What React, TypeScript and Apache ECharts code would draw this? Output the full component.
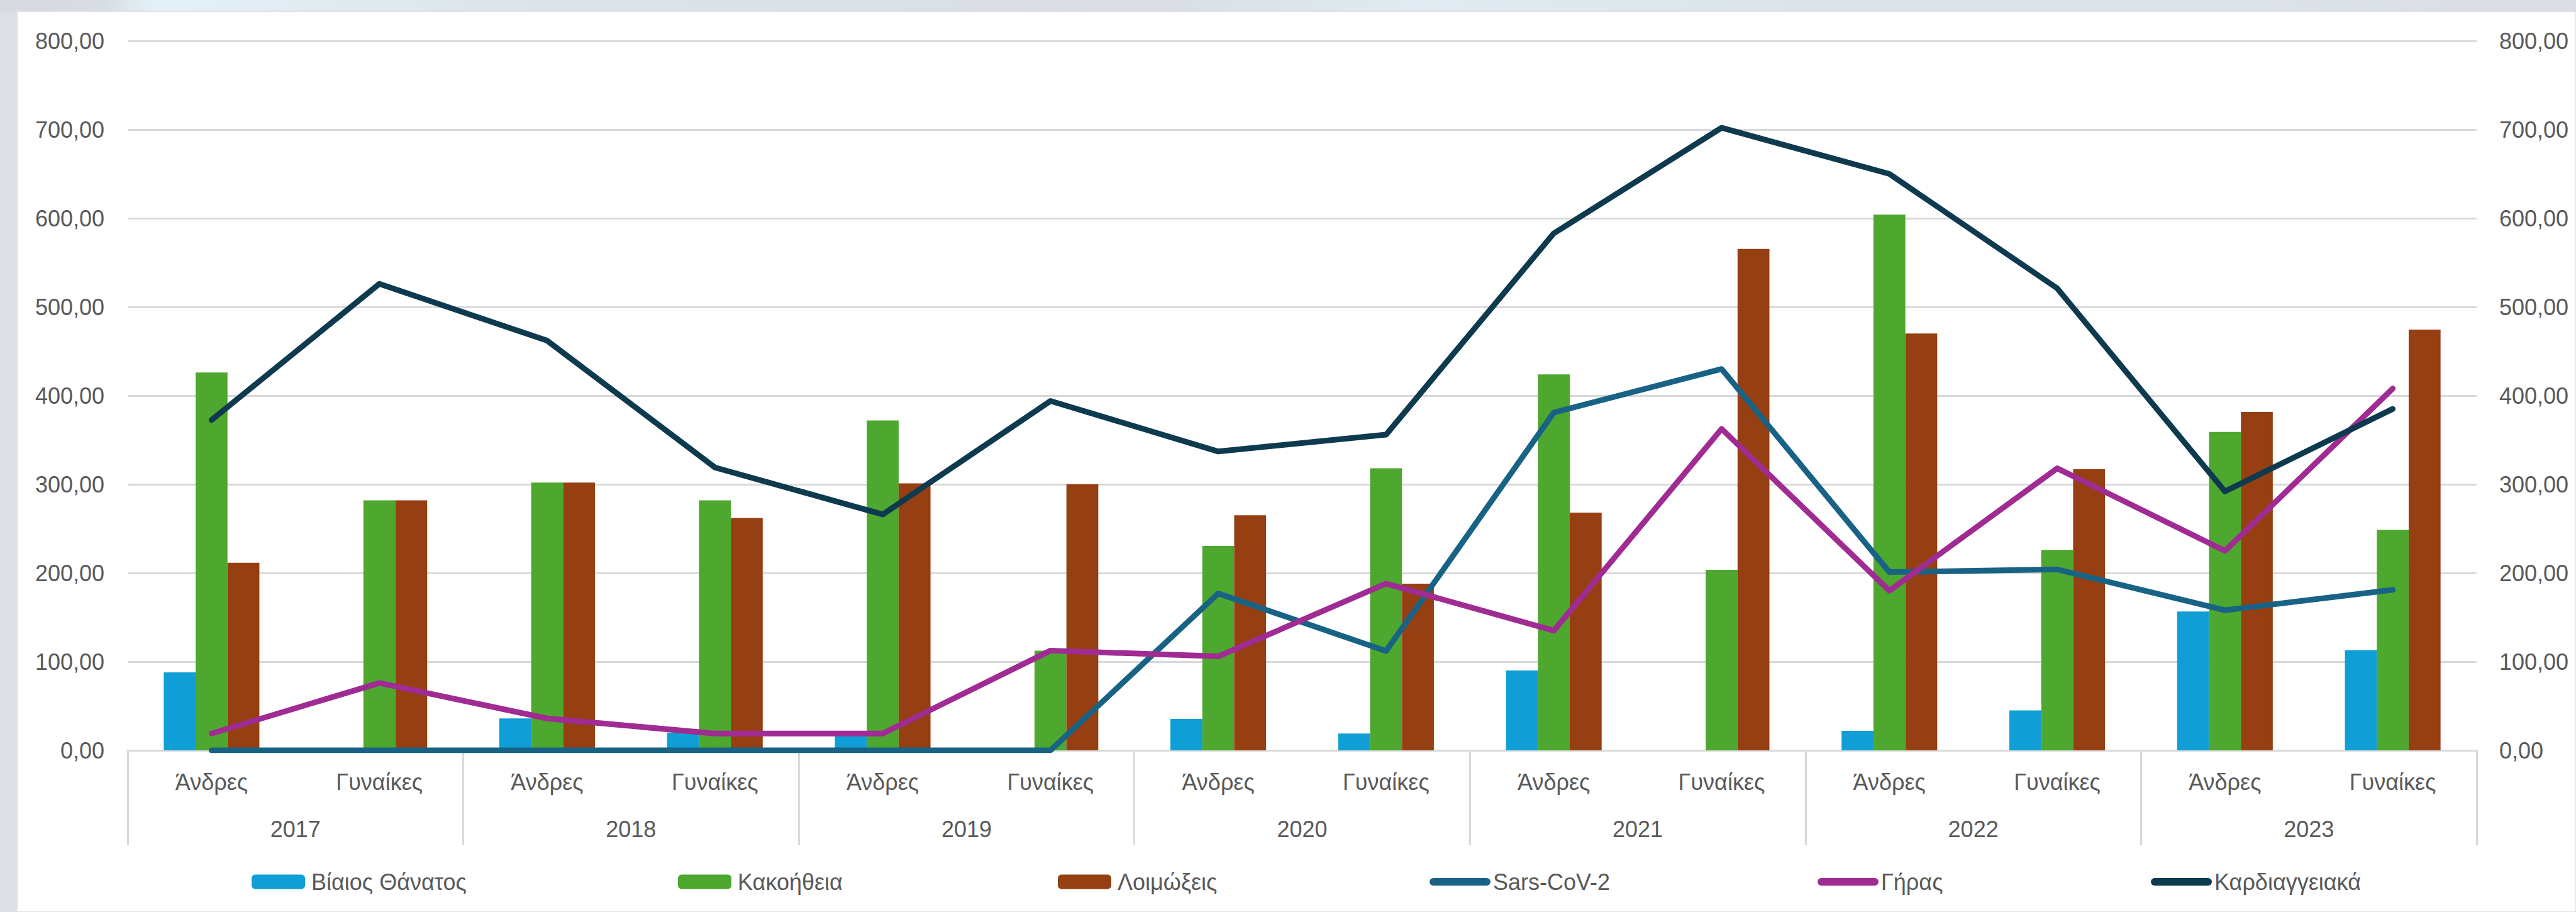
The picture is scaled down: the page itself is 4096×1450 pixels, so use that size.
import React, { useEffect, useRef } from "react";
import * as echarts from "echarts";

const years = ["2017", "2018", "2019", "2020", "2021", "2022", "2023"];
const sexes = ["Άνδρες", "Γυναίκες"];
const categories = years.flatMap(() => sexes);

const seriesNames = [
  "Βίαιος Θάνατος",
  "Κακοήθεια",
  "Λοιμώξεις",
  "Sars-CoV-2",
  "Γήρας",
  "Καρδιαγγειακά",
];

const violentDeath = [88, 0, 36, 20, 17, 0, 35.5, 19, 90, 0, 22, 45, 156.5, 113];
const malignancy = [426, 282, 302, 282, 372, 112.5, 230.5, 318, 424, 203.5, 604, 226, 359, 248.5];
const infections = [211.5, 282, 302, 262, 301, 300, 265, 188, 268, 565.5, 470, 317, 381.5, 474.5];
const sarsCov2 = [0, 0, 0, 0, 0, 0, 177, 112, 381, 430, 201, 204, 158, 181];
const oldAge = [19, 76, 36, 19, 19, 112.5, 106, 188, 135, 362.5, 180, 318, 225, 408];
const cardio = [372.5, 526, 462, 319, 266, 394, 337, 356, 583, 702, 650, 521, 292, 385];

const yMin = 0;
const yMax = 800;
const yStep = 100;

const colors = ["#0F9ED5", "#4EA72E", "#963F12", "#186385", "#A02B93", "#0E3A4F"];

const FONT = "Liberation Sans";
const TEXT = "#595959";
const GRID = "#D9D9D9";

const fmt = (v: number) => v.toFixed(2).replace(".", ",");

export default function App() {
  const ref = useRef<HTMLDivElement>(null);

  useEffect(() => {
    if (!ref.current) return;
    const chart = echarts.init(ref.current, undefined, { renderer: "svg" });

    const legendLefts = [400, 1078, 1682, 2273, 2890, 3420];

    const legends = seriesNames.map((n, i) => {
      const base: any = {
        data: [n],
        left: legendLefts[i],
        top: 1384,
        padding: 0,
        itemWidth: 85,
        itemHeight: 23,
        selectedMode: false,
        textStyle: {
          fontSize: 36,
          color: TEXT,
          fontFamily: FONT,
          padding: [0, 0, 0, 5],
        },
      };
      if (i >= 3) {
        base.lineStyle = { width: 12, cap: "round" };
        base.itemStyle = { opacity: 0 };
      }
      return base;
    });

    const option: any = {
      animation: false,
      backgroundColor: "transparent",
      textStyle: { fontFamily: FONT },
      graphic: [
        {
          type: "rect",
          z: -100,
          silent: true,
          shape: { x: 0, y: 0, width: 4096, height: 1450 },
          style: { fill: "#DCE0E5" },
        },
        {
          type: "rect",
          z: -99,
          silent: true,
          shape: { x: 0, y: 0, width: 4096, height: 20 },
          style: {
            fill: new echarts.graphic.LinearGradient(0, 0, 1, 0, [
              { offset: 0, color: "#D6DADF" },
              { offset: 0.04, color: "#D8DDE2" },
              { offset: 0.06, color: "#E3F2F7" },
              { offset: 0.14, color: "#DFEAEF" },
              { offset: 0.22, color: "#DCE3E8" },
              { offset: 0.45, color: "#DADEE4" },
              { offset: 0.55, color: "#DFECF1" },
              { offset: 0.7, color: "#DCE4EA" },
              { offset: 0.85, color: "#DDE3E8" },
              { offset: 1, color: "#DADEE3" },
            ]),
          },
        },
        {
          type: "rect",
          z: -98,
          silent: true,
          shape: { x: 27, y: 18, width: 4069, height: 1432 },
          style: { fill: "#FFFFFF", stroke: "#E2E2E2", lineWidth: 2 },
        },
      ],
      grid: { left: 203, right: 158, top: 65, bottom: 257 },
      legend: legends,
      xAxis: [
        {
          type: "category",
          data: categories,
          position: "bottom",
          boundaryGap: true,
          axisLine: { show: true, lineStyle: { color: GRID, width: 3 } },
          axisTick: { show: false },
          axisLabel: {
            interval: 0,
            margin: 32,
            fontSize: 36,
            color: TEXT,
            fontFamily: FONT,
          },
          splitLine: { show: false },
        },
        {
          type: "category",
          data: years,
          position: "bottom",
          offset: 0,
          boundaryGap: true,
          axisLine: { show: false },
          axisTick: {
            show: true,
            interval: 0,
            length: 150,
            lineStyle: { color: GRID, width: 3 },
          },
          axisLabel: {
            interval: 0,
            margin: 107,
            fontSize: 36,
            color: TEXT,
            fontFamily: FONT,
          },
          splitLine: { show: false },
        },
      ],
      yAxis: [
        {
          type: "value",
          min: yMin,
          max: yMax,
          interval: yStep,
          position: "left",
          axisLine: { show: false },
          axisTick: { show: false },
          axisLabel: {
            margin: 37,
            fontSize: 36,
            color: TEXT,
            fontFamily: FONT,
            formatter: fmt,
          },
          splitLine: { show: true, lineStyle: { color: GRID, width: 3 } },
        },
        {
          type: "value",
          min: yMin,
          max: yMax,
          interval: yStep,
          position: "right",
          axisLine: { show: false },
          axisTick: { show: false },
          axisLabel: {
            margin: 36,
            fontSize: 36,
            color: TEXT,
            fontFamily: FONT,
            formatter: fmt,
          },
          splitLine: { show: false },
        },
      ],
      series: [
        {
          name: seriesNames[0],
          type: "bar",
          data: violentDeath,
          itemStyle: { color: colors[0] },
          barGap: "0%",
          barCategoryGap: "43%",
        },
        {
          name: seriesNames[1],
          type: "bar",
          data: malignancy,
          itemStyle: { color: colors[1] },
          barGap: "0%",
          barCategoryGap: "43%",
        },
        {
          name: seriesNames[2],
          type: "bar",
          data: infections,
          itemStyle: { color: colors[2] },
          barGap: "0%",
          barCategoryGap: "43%",
        },
        ...[sarsCov2, oldAge, cardio].map((d, k) => ({
          name: seriesNames[3 + k],
          type: "line",
          yAxisIndex: 1,
          data: d,
          symbol: "none",
          z: 3 + k,
          itemStyle: { color: colors[3 + k] },
          lineStyle: { color: colors[3 + k], width: 9, cap: "round", join: "round" },
        })),
      ],
    };

    chart.setOption(option);
    return () => chart.dispose();
  }, []);

  return (
    <div
      ref={ref}
      style={{ position: "absolute", left: 0, top: 0, width: 4096, height: 1450 }}
    />
  );
}
